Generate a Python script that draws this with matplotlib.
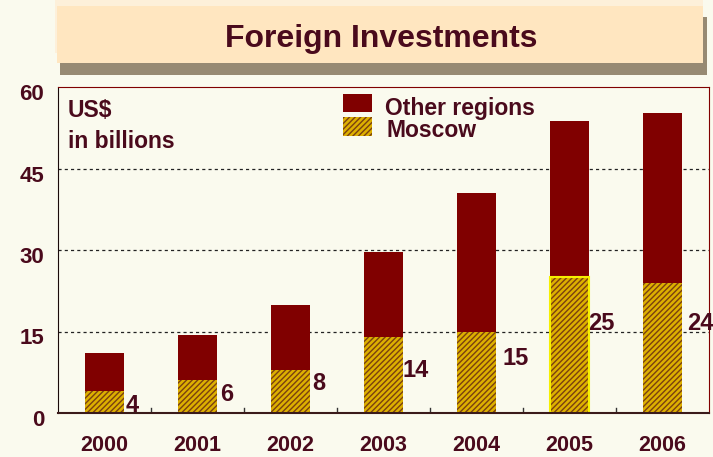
import numpy as np
import matplotlib.pyplot as plt
import matplotlib.transforms as mtransforms
from matplotlib.patches import Rectangle

plt.rcParams['font.family'] = ['Liberation Sans', 'DejaVu Sans']
plt.rcParams['hatch.linewidth'] = 1.0

# Data (US$ billions)
years = ['2000', '2001', '2002', '2003', '2004', '2005', '2006']
moscow = [4, 6, 8, 14, 15, 25, 24]
other_regions = [7.1, 8.4, 11.9, 15.7, 25.5, 28.7, 31.2]
yticks = [0, 15, 30, 45, 60]

bg = '#FAFAEE'
dark_red = '#800000'
gold = '#DDB000'
stripe = '#7A4010'
text_col = '#4A0A1C'

fig = plt.figure(figsize=(7.13, 4.57), dpi=100, facecolor=bg)
ax = fig.add_axes([58 / 713, 44 / 457, 651 / 713, 326 / 457], facecolor=bg)

x = np.arange(len(years))
w = 0.43
ax.bar(x, moscow, w, color=gold, edgecolor=stripe, hatch='//////', linewidth=0)
ax.bar(x, other_regions, w, bottom=moscow, color=dark_red, linewidth=0)
# highlighted 2005 outline
ax.bar(x[5], moscow[5], w, fill=False, edgecolor='#F5F000', linewidth=1.5)

# value labels beside each Moscow segment
label_y = [1.4, 3.4, 5.5, 7.9, 10.0, 16.5, 16.5]
label_dx = [0.01, 0.03, 0.02, -0.01, 0.065, -0.01, 0.055]
for i, v in enumerate(moscow):
    ax.text(x[i] + w / 2 + label_dx[i], label_y[i], str(v), ha='left', va='center',
            fontsize=17, fontweight='bold', color=text_col)

ax.set_xlim(-0.5, len(years) - 0.5)
ax.set_ylim(0, 60)
ax.set_yticks(yticks)
ax.set_yticklabels([str(t) for t in yticks], fontsize=16, fontweight='bold', color=text_col)
ax.set_xticks(x)
ax.set_xticklabels(years, fontsize=15.5, fontweight='bold', color=text_col)
ax.tick_params(axis='both', length=0)
ax.tick_params(axis='x', pad=16)
ax.tick_params(axis='y', pad=10)
shift = mtransforms.ScaledTranslation(0, -5 / 100, fig.dpi_scale_trans)
for lab in ax.get_yticklabels():
    lab.set_transform(lab.get_transform() + shift)

# small separator ticks between categories
for xb in np.arange(0.5, len(years) - 0.5, 1):
    ax.plot([xb, xb], [0, 0.9], color='#333333', lw=1)

for yv in yticks[1:-1]:
    ax.axhline(yv, color='#222222', lw=0.9, ls=(0, (2.5, 2.5)), zorder=0.5)

ax.spines['top'].set_color(dark_red)
ax.spines['right'].set_color(dark_red)
ax.spines['left'].set_color('#1A0A0A')
ax.spines['bottom'].set_color('#3A1A1A')
ax.spines['bottom'].set_linewidth(1.5)

ax.text(0.015, 0.908, 'US$', transform=ax.transAxes, ha='left', va='baseline',
        fontsize=16.5, fontweight='bold', color=text_col)
ax.text(0.015, 0.813, 'in billions', transform=ax.transAxes, ha='left', va='baseline',
        fontsize=16.5, fontweight='bold', color=text_col)

# legend drawn manually
ax.add_patch(Rectangle((285 / 651, 0.923), 29 / 651, 0.055, transform=ax.transAxes,
                       facecolor=dark_red, linewidth=0))
ax.add_patch(Rectangle((285 / 651, 0.850), 29 / 651, 0.058, transform=ax.transAxes,
                       facecolor=gold, edgecolor=stripe, hatch='//////', linewidth=0))
ax.text(327 / 651, 0.914, 'Other regions', transform=ax.transAxes, ha='left', va='baseline',
        fontsize=16.5, fontweight='bold', color=text_col)
ax.text(329 / 651, 0.847, 'Moscow', transform=ax.transAxes, ha='left', va='baseline',
        fontsize=16.5, fontweight='bold', color=text_col)

# title box with shadow
fig.patches.append(Rectangle((55 / 713, 1 - 53 / 457), 648 / 713, 53 / 457,
                             transform=fig.transFigure, facecolor='#FDF0DA', linewidth=0))
fig.patches.append(Rectangle((60 / 713, 1 - 75 / 457), 647 / 713, 58 / 457,
                             transform=fig.transFigure, facecolor='#978A73', linewidth=0))
fig.patches.append(Rectangle((57 / 713, 1 - 63 / 457), 646 / 713, 57 / 457,
                             transform=fig.transFigure, facecolor='#FFE6C0', linewidth=0))
fig.text(381 / 713, 1 - 47 / 457, 'Foreign Investments', ha='center', va='baseline',
         fontsize=23, fontweight='bold', color=text_col)

plt.savefig('out.png', dpi=100, facecolor=bg)
